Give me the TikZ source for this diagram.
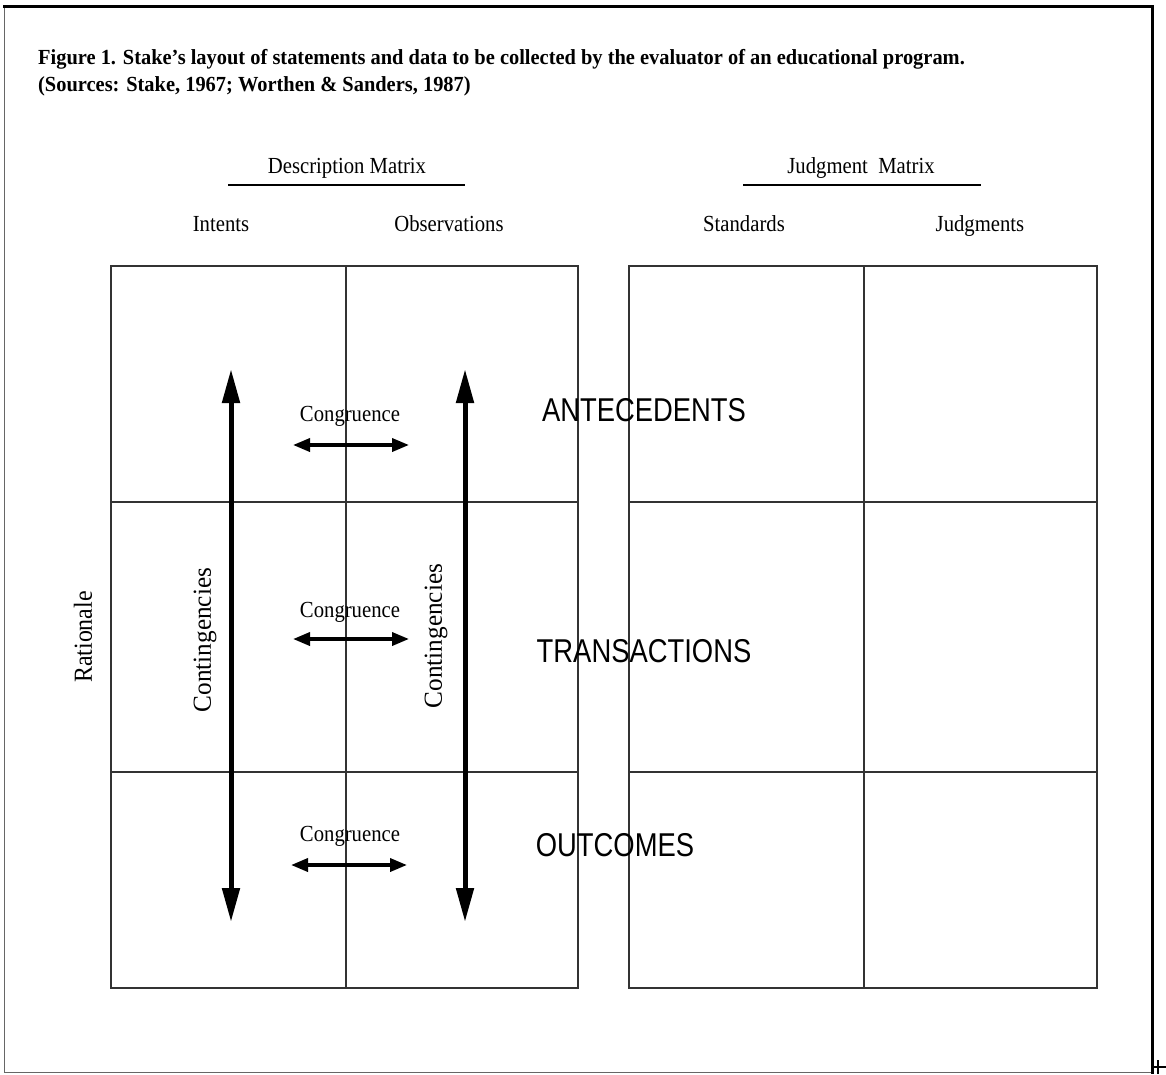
\documentclass[tikz,border=0pt]{standalone}
\usepackage{fontspec}
\setmainfont{Liberation Serif}
\newfontfamily\labelsans{Liberation Sans}
\usetikzlibrary{arrows.meta}
\begin{document}
\begin{tikzpicture}[x=1pt,y=-1pt,
  gridline/.style={draw=black!80,line width=1.4pt},
  frameline/.style={draw=black!60,line width=1pt},
  heavyframe/.style={draw=black,line width=3pt},
  captext/.style={anchor=base west,inner sep=0pt,font=\bfseries\fontsize{21.5}{24}\selectfont,xscale=0.95},
  header/.style={font=\fontsize{23}{26}\selectfont,xscale=0.9,anchor=base,inner sep=0pt},
  stagelabel/.style={font=\labelsans\fontsize{33}{36}\selectfont,xscale=0.83,anchor=center,inner sep=0pt},
  congtext/.style={font=\fontsize{23}{26}\selectfont,xscale=0.9,anchor=base,inner sep=0pt},
  rottext/.style={font=\fontsize{26}{29}\selectfont,rotate=90,anchor=center,inner sep=0pt},
  bigarrow/.style={line width=5pt,{Triangle[length=34pt,width=17pt]}-{Triangle[length=34pt,width=17pt]}},
  smallarrow/.style={line width=3.6pt,{Triangle[length=17pt,width=13pt]}-{Triangle[length=17pt,width=13pt]}},
]
\useasboundingbox (0,0) rectangle (1166,1074);
\fill[white] (0,0) rectangle (1166,1074);

% page frame
\draw[frameline] (4,6) -- (4,1072) -- (1152,1072);
\draw[heavyframe] (3,6) -- (1152,6) -- (1152,1074);
\draw[line width=1.2pt] (1151,1067) -- (1166,1067) (1158,1060) -- (1158,1074);

% caption
\node[captext] (cap1) at (38,64)
  {Figure 1. Stake’s layout of statements and data to be collected by the evaluator of an educational program.};
\node[captext] (cap2) at (38,91)
  {(Sources: Stake, 1967; Worthen \& Sanders, 1987)};

% matrix headings
\node[header] (desc) at (347,173) {Description Matrix};
\draw[line width=2.2pt] (228,185) -- (465,185);
\node[header] (judg) at (861,173) {Judgment\ \ Matrix};
\draw[line width=2.2pt] (743,185) -- (981,185);

\node[header] (intents) at (221,231) {Intents};
\node[header] (obs) at (449,231) {Observations};
\node[header] (stand) at (744,231) {Standards};
\node[header] (judgm) at (980,231) {Judgments};

% description matrix grid
\draw[gridline] (111,266) rectangle (578,988);
\draw[gridline] (346,266) -- (346,988);
\draw[gridline] (111,502) -- (578,502);
\draw[gridline] (111,772) -- (578,772);

% judgment matrix grid
\draw[gridline] (629,266) rectangle (1097,988);
\draw[gridline] (864,266) -- (864,988);
\draw[gridline] (629,502) -- (1097,502);
\draw[gridline] (629,772) -- (1097,772);

% side labels
\node[rottext,xscale=0.92] (rat) at (83,637) {Rationale};
\node[rottext,xscale=0.97] (contL) at (205,640) {Contingencies};
\node[rottext,xscale=0.97] (contR) at (436,636) {Contingencies};

% contingency arrows
\coordinate (lt) at (231,369);
\coordinate (lb) at (231,922);
\coordinate (rt) at (465,369);
\coordinate (rb) at (465,922);
\draw[bigarrow] (lt) -- (lb);
\draw[bigarrow] (rt) -- (rb);

% congruence labels and arrows
\node[congtext] (c1) at (350,421) {Congruence};
\node[congtext] (c2) at (350,617) {Congruence};
\node[congtext] (c3) at (350,841) {Congruence};
\coordinate (a1l) at (293,445); \coordinate (a1r) at (409,445);
\coordinate (a2l) at (293,639); \coordinate (a2r) at (409,639);
\coordinate (a3l) at (291,865); \coordinate (a3r) at (407,865);
\draw[smallarrow] (a1l) -- (a1r);
\draw[smallarrow] (a2l) -- (a2r);
\draw[smallarrow] (a3l) -- (a3r);

% stage labels
\node[stagelabel] (ante) at (644,410) {ANTECEDENTS};
\node[stagelabel] (trans) at (644,651) {TRANSACTIONS};
\node[stagelabel] (outc) at (615,845) {OUTCOMES};
\end{tikzpicture}
\end{document}
